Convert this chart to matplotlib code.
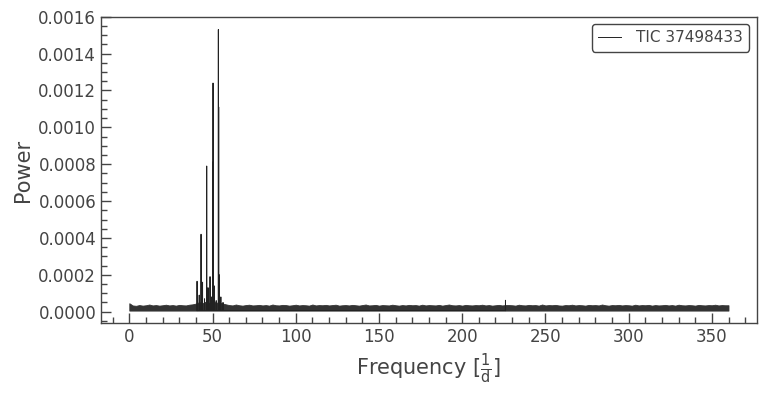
import numpy as np
import matplotlib
matplotlib.use("Agg")
from matplotlib import pyplot as plt
from matplotlib.ticker import MultipleLocator, FormatStrFormatter

# noise band: upper envelope read every 2 c/d (units of 1e-5)
band_freq = np.arange(0, 361, 2)
band_top = [
    4.6, 3.4, 3.2, 3.6, 3.3, 3.5, 3.9, 3.4, 3.6, 3.3,
    3.5, 3.8, 3.4, 3.6, 3.3, 3.7, 3.5, 3.4, 3.8, 4.0,
    4.4, 5.2, 4.6, 5.5, 4.8, 5.8, 4.9, 5.0, 4.4, 4.0,
    3.6, 3.4, 3.9, 3.5, 3.3, 3.6, 3.8, 3.4, 3.5, 3.7,
    3.4, 3.6, 3.3, 3.9, 3.5, 3.4, 3.7, 3.6, 3.3, 3.5,
    3.8, 3.4, 3.6, 3.5, 3.3, 3.9, 3.4, 3.6, 3.5, 3.7,
    3.4, 3.6, 3.8, 3.3, 3.5, 3.6, 3.4, 3.7, 3.5, 3.3,
    3.6, 3.9, 3.4, 3.5, 3.7, 3.3, 3.6, 3.5, 3.4, 3.8,
    3.5, 3.3, 3.6, 3.4, 3.7, 3.5, 3.6, 3.3, 3.8, 3.4,
    3.6, 3.5, 3.4, 3.7, 3.3, 3.6, 3.9, 3.5, 3.4, 3.6,
    3.3, 3.7, 3.5, 3.4, 3.6, 3.5, 3.8, 3.4, 3.6, 3.3,
    3.5, 3.7, 3.4, 3.6, 3.6, 3.5, 3.3, 3.8, 3.5, 3.4,
    3.7, 3.5, 3.6, 3.3, 3.9, 3.4, 3.6, 3.5, 3.7, 3.4,
    3.3, 3.6, 3.5, 3.8, 3.4, 3.6, 3.5, 3.3, 3.7, 3.5,
    3.6, 3.4, 3.9, 3.5, 3.3, 3.6, 3.5, 3.7, 3.4, 3.6,
    3.5, 3.3, 3.8, 3.4, 3.6, 3.5, 3.7, 3.3, 3.6, 3.4,
    3.5, 3.7, 3.4, 3.6, 3.3, 3.8, 3.5, 3.4, 3.6, 3.5,
    3.3, 3.7, 3.5, 3.4, 3.6, 3.5, 3.8, 3.4, 3.6, 3.5,
    3.5,
]
band_bottom = 0.6  # 1e-5

# pulsation peaks and isolated spikes (frequency in 1/d, power)
peak_freq = [40.7, 42.0, 43.1, 44.0, 45.2, 46.5, 47.3, 48.5, 49.3, 50.1, 50.3,
             51.0, 52.2, 53.5, 53.7, 54.0, 55.0, 56.3, 226.0]
peak_power = [0.000165, 0.00009, 0.00042, 0.00016, 0.00007, 0.00079, 0.00013, 0.00019,
              0.00008, 0.00081, 0.00124, 0.00014, 0.00006, 0.00153, 0.00111, 0.0002,
              0.00008, 0.00005, 0.000062]

grey = '#444444'
plt.rcParams['text.color'] = grey
plt.rcParams['axes.labelcolor'] = grey
plt.rcParams['xtick.color'] = grey
plt.rcParams['ytick.color'] = grey
plt.rcParams['axes.edgecolor'] = grey

fig = plt.figure(figsize=(7.67, 3.97), dpi=100)
ax = fig.add_axes([0.1317, 0.1856, 0.855, 0.7724])

top = np.array(band_top) * 1e-5
ax.fill_between(band_freq, band_bottom * 1e-5, top, color='#333333', lw=0.6, edgecolor='#333333')

base = band_bottom * 1e-5
px, py = [], []
for f, p in zip(peak_freq, peak_power):
    px += [f - 0.05, f, f + 0.05]
    py += [base, p, base]
ax.plot(px, py, color='#222222', lw=0.7, label='TIC 37498433')

ax.set_xlim(-17, 377)
ax.set_ylim(-0.000063, 0.0016)
ax.xaxis.set_major_locator(MultipleLocator(50))
ax.xaxis.set_minor_locator(MultipleLocator(10))
ax.yaxis.set_major_locator(MultipleLocator(0.0002))
ax.yaxis.set_minor_locator(MultipleLocator(0.00005))
ax.yaxis.set_major_formatter(FormatStrFormatter('%.4f'))
ax.tick_params(which='both', direction='in', labelsize=12)
ax.tick_params(which='major', length=7, width=1)
ax.tick_params(which='minor', length=4, width=1)
for s in ax.spines.values():
    s.set_linewidth(1)

ax.set_xlabel(r'Frequency [$\mathrm{\frac{1}{d}}$]', fontsize=15)
ax.set_ylabel('Power', fontsize=15)

leg = ax.legend(loc='upper right', fontsize=11, handlelength=1.5, handletextpad=1.0,
                framealpha=1, fancybox=True)
leg.get_frame().set_edgecolor(grey)

fig.savefig('out.png', dpi=100)
